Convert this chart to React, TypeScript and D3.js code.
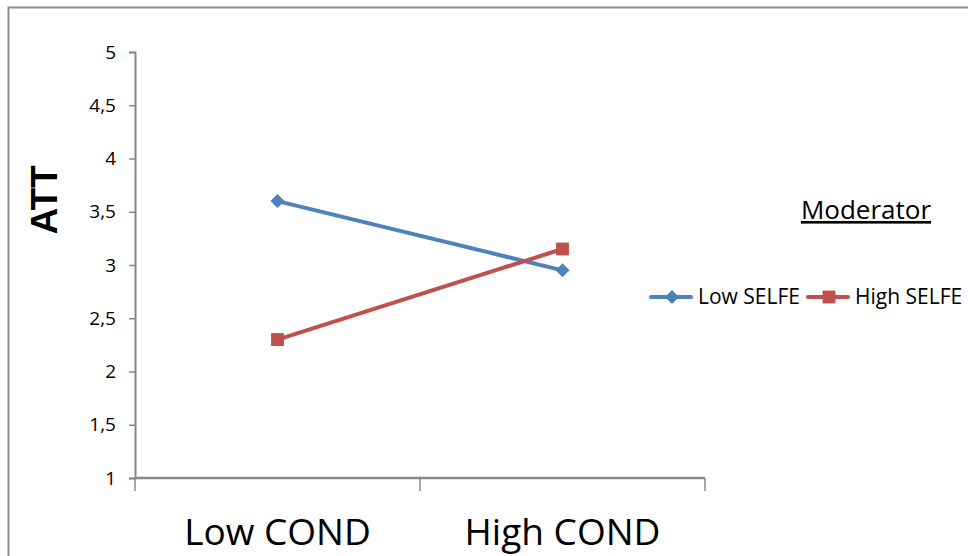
import { useEffect, useRef } from "react"
import * as d3 from "d3"

const categories = ["Low COND", "High COND"]
const seriesNames = ["Low SELFE", "High SELFE"]
const lowSelfe = [3.6, 2.95]
const highSelfe = [2.3, 3.15]
const yTicks = [1, 1.5, 2, 2.5, 3, 3.5, 4, 4.5, 5]
const colors = ["#4F81BD", "#C0504D"]

const FONT = "'Open Sans', 'Liberation Sans', sans-serif"

export default function App() {
    const ref = useRef<SVGSVGElement | null>(null)

    useEffect(() => {
        const svg = d3.select(ref.current)
        svg.selectAll("*").remove()

        // outer chart frame (runs off the right / bottom edge)
        svg.append("rect")
            .attr("x", 8.5).attr("y", 7.5)
            .attr("width", 1000).attr("height", 600)
            .attr("fill", "#fff")
            .attr("stroke", "#8c8c8c")
            .attr("stroke-width", 2)

        const x = d3.scaleBand().domain(categories).range([135, 705])
        const y = d3.scaleLinear().domain([1, 5]).range([478, 52])

        // y axis - line + ticks from d3, labels drawn by hand
        const yAxis = svg.append("g").attr("transform", "translate(135,0)")
        yAxis.call(d3.axisLeft(y).tickValues(yTicks).tickSize(6).tickFormat(() => ""))
        yAxis.select(".domain").attr("stroke", "#888").attr("stroke-width", 2)
        yAxis.selectAll(".tick line").attr("stroke", "#888").attr("stroke-width", 1.5)

        svg.append("g").selectAll("text").data(yTicks).join("text")
            .attr("x", 116)
            .attr("y", d => y(d))
            .attr("dy", "0.35em")
            .attr("text-anchor", "end")
            .style("font-family", FONT).style("font-size", "19px")
            .attr("fill", "#000")
            .text(d => String(d).replace(".", ","))

        // x axis
        const xg = svg.append("g").attr("transform", "translate(0,478)")
        xg.append("line")
            .attr("x1", 135).attr("x2", 705)
            .attr("stroke", "#888").attr("stroke-width", 2.5)
        const bounds = [...categories.map(c => x(c)!), x.range()[1]]
        xg.selectAll("line.tk").data(bounds).join("line")
            .attr("class", "tk")
            .attr("x1", d => d).attr("x2", d => d)
            .attr("y1", 0).attr("y2", 13)
            .attr("stroke", "#888").attr("stroke-width", 1.5)
        xg.selectAll("text").data(categories).join("text")
            .attr("x", d => x(d)! + x.bandwidth() / 2)
            .attr("y", 67)
            .attr("text-anchor", "middle")
            .style("font-family", FONT).style("font-size", "37px")
            .attr("fill", "#000")
            .text(d => d)

        // y title
        svg.append("text")
            .attr("transform", "translate(57,200) rotate(-90)")
            .attr("text-anchor", "middle")
            .style("font-family", "'Liberation Sans', Arial, sans-serif")
            .style("font-weight", "bold").style("font-size", "37px")
            .text("ATT")

        const cx = (c: string) => x(c)! + x.bandwidth() / 2
        const line = d3.line<number>()
            .x((_, i) => cx(categories[i]))
            .y(d => y(d))

        const diamond = d3.symbol().type(d3.symbolDiamond2).size(125)
        const square = d3.symbol().type(d3.symbolSquare2).size(210)

        const series = [lowSelfe, highSelfe]
        series.forEach((vals, si) => {
            svg.append("path")
                .attr("d", line(vals))
                .attr("fill", "none")
                .attr("stroke", colors[si])
                .attr("stroke-width", 4)
            svg.selectAll(null).data(vals).join("path")
                .attr("transform", (d, i) => `translate(${cx(categories[i])},${y(d)})`)
                .attr("d", si === 0 ? diamond() : square())
                .attr("fill", colors[si])
        })

        // legend
        svg.append("text")
            .attr("x", 866).attr("y", 219)
            .attr("text-anchor", "middle")
            .style("font-family", FONT).style("font-size", "26px")
            .attr("text-decoration", "underline")
            .text("Moderator")

        const legendX = [651, 808]
        seriesNames.forEach((name, si) => {
            const g = svg.append("g").attr("transform", `translate(${legendX[si]},297)`)
            g.append("line").attr("x1", 0).attr("x2", 40)
                .attr("stroke", colors[si]).attr("stroke-width", 4)
                .attr("stroke-linecap", "round")
            g.append("path")
                .attr("transform", "translate(21,0)")
                .attr("d", si === 0 ? diamond() : square())
                .attr("fill", colors[si])
            g.append("text")
                .attr("x", 47).attr("y", 7)
                .style("font-family", FONT).style("font-size", "21px")
                .text(name)
        })
    }, [])

    return (
        <svg ref={ref} width={968} height={556}
            style={{ position: "absolute", left: 0, top: 0, background: "#fff" }} />
    )
}
